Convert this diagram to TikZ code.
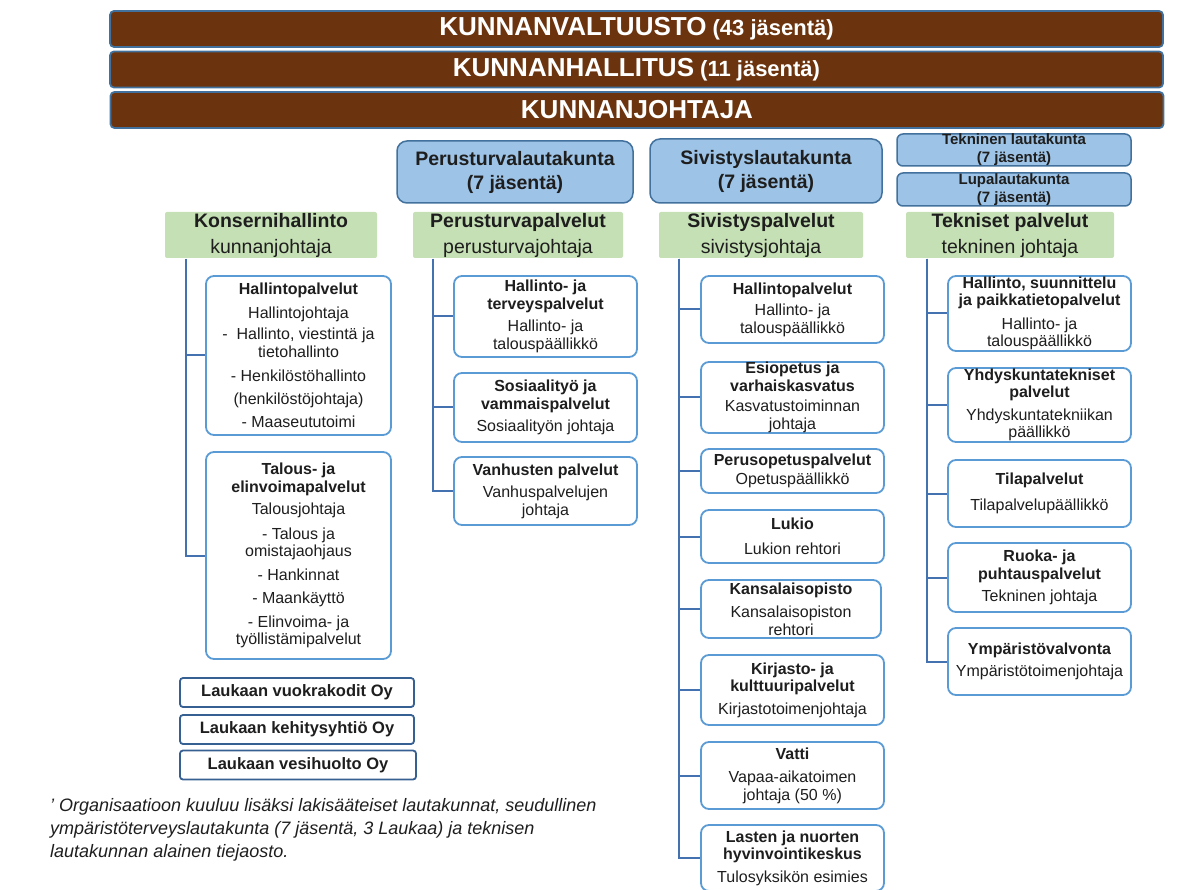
\documentclass[tikz,border=0pt]{standalone}
\usepackage{fontspec}
\setmainfont{Liberation Sans}
\definecolor{barbrown}{RGB}{108,52,14}
\definecolor{barline}{RGB}{65,113,156}
\definecolor{boardfill}{RGB}{157,195,230}
\definecolor{boardline}{RGB}{65,113,156}
\definecolor{greenfill}{RGB}{197,224,180}
\definecolor{boxline}{RGB}{91,155,213}
\definecolor{connc}{RGB}{68,114,176}
\definecolor{txt}{RGB}{30,30,30}
\definecolor{compline}{RGB}{55,96,146}
\begin{document}
\begin{tikzpicture}[x=1pt,y=-1pt,
 bar/.style={draw=barline, line width=1.8pt, fill=barbrown, rounded corners=4pt, minimum width=1053pt, minimum height=36pt, inner sep=0pt, text=white, font=\fontsize{22}{24}\selectfont\bfseries},
 board/.style={draw=boardline, line width=1.5pt, fill=boardfill, rounded corners=10pt, inner sep=0pt, align=center, text=txt, font=\fontsize{19.5}{24}\selectfont\bfseries},
 smallboard/.style={draw=boardline, line width=1.5pt, fill=boardfill, rounded corners=6pt, inner sep=0pt, align=center, text=txt, minimum width=234pt, font=\fontsize{15}{18}\selectfont\bfseries},
 head/.style={fill=greenfill, rounded corners=2pt, inner sep=0pt, align=center, text=txt, minimum height=46pt, font=\fontsize{19.5}{26}\selectfont},
 unit/.style={draw=boxline, line width=1.8pt, fill=white, rounded corners=8pt, inner sep=0pt, align=center, text=txt, minimum width=183pt, font=\fontsize{16}{17.5}\selectfont},
 comp/.style={draw=compline, line width=1.8pt, fill=white, rounded corners=3pt, inner sep=0pt, text=txt, minimum width=234pt, minimum height=29pt, font=\fontsize{16.5}{18}\selectfont\bfseries},
 conn/.style={draw=connc, line width=2pt},
 note/.style={anchor=north west, align=left, inner sep=0pt, text=txt, font=\fontsize{18}{23}\selectfont\itshape}
]
\useasboundingbox (0,0) rectangle (1178,890);

% top bars
\node[bar] (valt) at (636.5,29) {{\fontsize{26}{28}\selectfont KUNNANVALTUUSTO} (43 jäsentä)};
\node[bar] (hall) at (636.5,69.5) {{\fontsize{26}{28}\selectfont KUNNANHALLITUS} (11 jäsentä)};
\node[bar] (joht) at (637,110) {{\fontsize{26}{28}\selectfont KUNNANJOHTAJA}};

% boards
\node[board, minimum width=236pt, minimum height=62pt] (ptl) at (515,172) {Perusturvalautakunta\\(7 jäsentä)};
\node[board, minimum width=232pt, minimum height=64pt] (svl) at (766,171) {Sivistyslautakunta\\(7 jäsentä)};
\node[smallboard, minimum height=32pt] (tkl) at (1014,150) {Tekninen lautakunta\\(7 jäsentä)};
\node[smallboard, minimum height=33pt] (lpl) at (1014,189.5) {Lupalautakunta\\(7 jäsentä)};

% green headers
\node[head, minimum width=212pt] (kh) at (271,235) {\textbf{Konsernihallinto}\\kunnanjohtaja};
\node[head, minimum width=210pt] (pp) at (518,235) {\textbf{Perusturvapalvelut}\\perusturvajohtaja};
\node[head, minimum width=204pt] (sp) at (761,235) {\textbf{Sivistyspalvelut}\\sivistysjohtaja};
\node[head, minimum width=208pt] (tp) at (1010,235) {\textbf{Tekniset palvelut}\\tekninen johtaja};

% Konsernihallinto units
\node[unit, minimum width=185pt, minimum height=159pt] (k1) at (298.5,355.5) {\textbf{Hallintopalvelut}\\[6pt]Hallintojohtaja\\[4pt]
-\ \ Hallinto, viestintä ja\\ tietohallinto\\[7pt] - Henkilöstöhallinto\\[5pt] (henkilöstöjohtaja)\\[6pt] - Maaseututoimi};
\node[unit, minimum width=185pt, minimum height=207pt] (k2) at (298.5,555.5) {\textbf{Talous- ja}\\ \textbf{elinvoimapalvelut}\\[5pt]Talousjohtaja\\[7pt]
- Talous ja\\ omistajaohjaus\\[6pt] - Hankinnat\\[6pt] - Maankäyttö\\[6pt] - Elinvoima- ja\\ työllistämipalvelut};

% Perusturva units
\node[unit, minimum height=81pt] (p1) at (545.5,316.5) {\textbf{Hallinto- ja}\\ \textbf{terveyspalvelut}\\[5pt]Hallinto- ja\\ talouspäällikkö};
\node[unit, minimum height=69pt] (p2) at (545.5,407.5) {\textbf{Sosiaalityö ja}\\ \textbf{vammaispalvelut}\\[5pt]Sosiaalityön johtaja};
\node[unit, minimum height=68pt] (p3) at (545.5,491) {\textbf{Vanhusten palvelut}\\[5pt]Vanhuspalvelujen\\ johtaja};

% Sivistys units
\node[unit, minimum height=67pt] (s1) at (792.5,309.5) {\textbf{Hallintopalvelut}\\[4pt]Hallinto- ja\\ talouspäällikkö};
\node[unit, minimum height=71pt] (s2) at (792.5,397.5) {\textbf{Esiopetus ja}\\ \textbf{varhaiskasvatus}\\[3pt]Kasvatustoiminnan\\ johtaja};
\node[unit, minimum height=44pt] (s3) at (792.5,471) {\textbf{Perusopetuspalvelut}\\[2pt]Opetuspäällikkö};
\node[unit, minimum height=53pt] (s4) at (792.5,536.5) {\textbf{Lukio}\\[7pt]Lukion rehtori};
\node[unit, minimum width=180pt, minimum height=58pt] (s5) at (791,609) {\textbf{Kansalaisopisto}\\[6pt]Kansalaisopiston\\ rehtori};
\node[unit, minimum height=70pt] (s6) at (792.5,690) {\textbf{Kirjasto- ja}\\ \textbf{kulttuuripalvelut}\\[5pt]Kirjastotoimenjohtaja};
\node[unit, minimum height=67pt] (s7) at (792.5,775.5) {\textbf{Vatti}\\[6pt]Vapaa-aikatoimen\\ johtaja (50 \%)};
\node[unit, minimum height=66pt] (s8) at (792.5,858) {\textbf{Lasten ja nuorten}\\ \textbf{hyvinvointikeskus}\\[5pt]Tulosyksikön esimies};

% Tekniset units
\node[unit, minimum height=75pt] (t1) at (1039.5,313.5) {\textbf{Hallinto, suunnittelu}\\ \textbf{ja paikkatietopalvelut}\\[6pt]Hallinto- ja\\ talouspäällikkö};
\node[unit, minimum height=74pt] (t2) at (1039.5,405) {\textbf{Yhdyskuntatekniset}\\ \textbf{palvelut}\\[5pt]Yhdyskuntatekniikan\\ päällikkö};
\node[unit, minimum height=67pt] (t3) at (1039.5,493.5) {\textbf{Tilapalvelut}\\[8pt]Tilapalvelupäällikkö};
\node[unit, minimum height=69pt] (t4) at (1039.5,577.5) {\textbf{Ruoka- ja}\\ \textbf{puhtauspalvelut}\\[5pt]Tekninen johtaja};
\node[unit, minimum height=67pt] (t5) at (1039.5,661.5) {\textbf{Ympäristövalvonta}\\[5pt]Ympäristötoimenjohtaja};

% companies
\node[comp] (c1) at (297,692.5) {Laukaan vuokrakodit Oy};
\node[comp] (c2) at (297,729.5) {Laukaan kehitysyhtiö Oy};
\node[comp, minimum width=236pt] (c3) at (298,765) {Laukaan vesihuolto Oy};

% footnote
\node[note] (fn) at (50,798) {’ Organisaatioon kuuluu lisäksi lakisääteiset lautakunnat, seudullinen\\ympäristöterveyslautakunta (7 jäsentä, 3 Laukaa) ja teknisen\\lautakunnan alainen tiejaosto.};

% connectors
\coordinate (ktop) at (186,259);
\coordinate (ptop) at (433,259);
\coordinate (stop) at (679,259);
\coordinate (ttop) at (927,259);
\foreach \n in {k1,k2} {\draw[conn] (ktop) |- (\n.west);}
\foreach \n in {p1,p2,p3} {\draw[conn] (ptop) |- (\n.west);}
\foreach \n in {s1,s2,s3,s4,s5,s6,s7,s8} {\draw[conn] (stop) |- (\n.west);}
\foreach \n in {t1,t2,t3,t4,t5} {\draw[conn] (ttop) |- (\n.west);}
\end{tikzpicture}
\end{document}
